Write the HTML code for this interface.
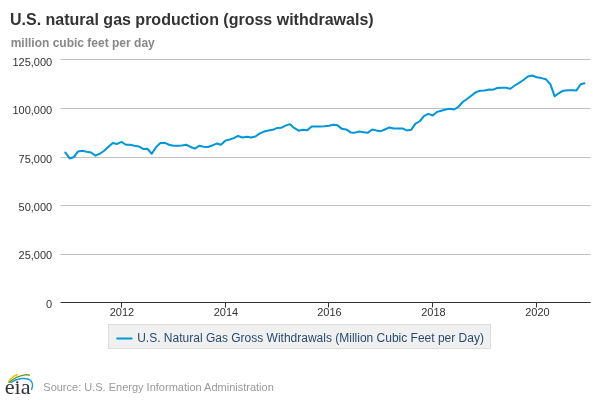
<!DOCTYPE html>
<html><head><meta charset="utf-8">
<style>
html,body{margin:0;padding:0;background:#fff;width:600px;height:400px;overflow:hidden}
svg{display:block;font-family:"Liberation Sans",sans-serif}
</style></head><body>
<svg style="will-change:transform" width="600" height="400" viewBox="0 0 600 400">
<rect width="600" height="400" fill="#fff"/>
<text x="10" y="25" font-size="16" font-weight="bold" fill="#333">U.S. natural gas production (gross withdrawals)</text>
<text x="10.7" y="47" font-size="12" font-weight="bold" fill="#888">million cubic feet per day</text>
<g stroke="#c0c0c0" stroke-width="1">
<path d="M60.5 59.5H590.7M60.5 108.5H590.7M60.5 157.5H590.7M60.5 205.5H590.7M60.5 254.5H590.7"/>
</g>
<g font-size="11" fill="#333" text-anchor="end">
<text x="52.2" y="66">125,000</text>
<text x="52.2" y="114">100,000</text>
<text x="52.2" y="163">75,000</text>
<text x="52.2" y="211">50,000</text>
<text x="52.2" y="259">25,000</text>
<text x="52.2" y="308">0</text>
</g>
<path d="M65.26 152.45 L69.66 158.45 L74.06 156.95 L78.04 151.45 L82.44 150.75 L86.70 151.75 L91.11 152.55 L95.37 155.65 L99.77 153.75 L104.17 150.75 L108.43 146.75 L112.84 142.95 L117.10 143.95 L121.50 141.95 L125.90 144.75 L130.02 144.75 L134.42 145.75 L138.69 146.45 L143.09 148.95 L147.35 148.75 L151.75 153.75 L156.15 147.15 L160.42 142.95 L164.82 142.95 L169.08 144.75 L173.48 145.75 L177.88 145.75 L181.86 145.55 L186.26 144.75 L190.52 146.95 L194.93 148.55 L199.19 145.75 L203.59 146.75 L207.99 146.95 L212.25 145.45 L216.66 143.55 L220.92 144.75 L225.32 140.65 L229.72 139.45 L233.70 138.15 L238.10 135.95 L242.36 137.45 L246.77 136.65 L251.03 137.45 L255.43 136.45 L259.83 133.35 L264.09 131.55 L268.50 130.45 L272.76 129.85 L277.16 127.95 L281.56 127.65 L285.54 125.65 L289.94 124.15 L294.20 127.95 L298.61 130.65 L302.87 129.75 L307.27 130.35 L311.67 126.45 L315.93 126.45 L320.34 126.45 L324.60 126.35 L329.00 125.65 L333.40 124.65 L337.52 125.35 L341.92 128.85 L346.19 129.45 L350.59 132.45 L354.85 132.65 L359.25 131.45 L363.65 132.35 L367.92 132.65 L372.32 129.45 L376.58 130.45 L380.98 131.15 L385.38 129.25 L389.36 127.45 L393.76 128.45 L398.02 128.45 L402.43 128.45 L406.69 130.45 L411.09 129.85 L415.49 123.65 L419.75 121.25 L424.16 115.95 L428.42 113.85 L432.82 115.55 L437.22 111.85 L441.20 110.75 L445.60 109.45 L449.86 108.65 L454.27 109.45 L458.53 106.75 L462.93 101.75 L467.33 98.75 L471.59 95.45 L476.00 92.15 L480.26 90.75 L484.66 90.55 L489.06 89.45 L493.04 89.65 L497.44 87.95 L501.70 87.75 L506.11 87.75 L510.37 88.75 L514.77 85.50 L519.17 82.80 L523.43 80.00 L527.84 76.50 L532.10 75.50 L536.80 77.30 L541.50 78.10 L545.82 79.20 L550.42 84.40 L554.69 96.30 L559.09 93.00 L563.35 90.70 L567.75 90.20 L572.15 90.20 L576.52 90.40 L580.62 84.30 L584.48 83.30" fill="none" stroke="#0096d7" stroke-width="2" stroke-linejoin="round" stroke-linecap="round"/>
<g stroke="#333" stroke-width="1">
<path d="M60.5 302.5H590.7M121.5 303V307.5M225.5 303V307.5M328.5 303V307.5M432.5 303V307.5M536.5 303V307.5"/>
</g>
<g font-size="11" fill="#333" text-anchor="middle">
<text x="122" y="316">2012</text>
<text x="226" y="316">2014</text>
<text x="329.5" y="316">2016</text>
<text x="433.4" y="316">2018</text>
<text x="537.4" y="316">2020</text>
</g>
<rect x="108.5" y="324.5" width="382" height="24" fill="#f0f0f0" stroke="#ddd" stroke-width="1"/>
<path d="M117.2 338.5H131.7" stroke="#0096d7" stroke-width="2" stroke-linecap="round"/>
<text x="137.2" y="342" font-size="12" fill="#274b6d">U.S. Natural Gas Gross Withdrawals (Million Cubic Feet per Day)</text>
<text x="43.3" y="391" font-size="11" fill="#999">Source: U.S. Energy Information Administration</text>
<!-- eia logo -->
<g fill="none" stroke-linecap="round">
<path d="M8.5 381.8 Q11.6 376.6 17.5 374.5" stroke="#f7c00e" stroke-width="1.35"/>
<path d="M9 382.4 Q16 376 25 374.8 Q27.5 374.6 29.3 375.2" stroke="#5d9930" stroke-width="1.35"/>
<path d="M11 382.3 Q15.5 379.2 22 378.5 Q29 378 31.5 381.5 Q33.5 385 31.6 389.4" stroke="#1a9ad9" stroke-width="1.4"/>
</g>
<text transform="translate(4.7 393.7) scale(1.06 1)" font-family="Liberation Serif" font-size="21" fill="#333">e&#305;a</text>
<circle cx="17.25" cy="382.3" r="1.15" fill="#333"/>
</svg>
</body></html>
